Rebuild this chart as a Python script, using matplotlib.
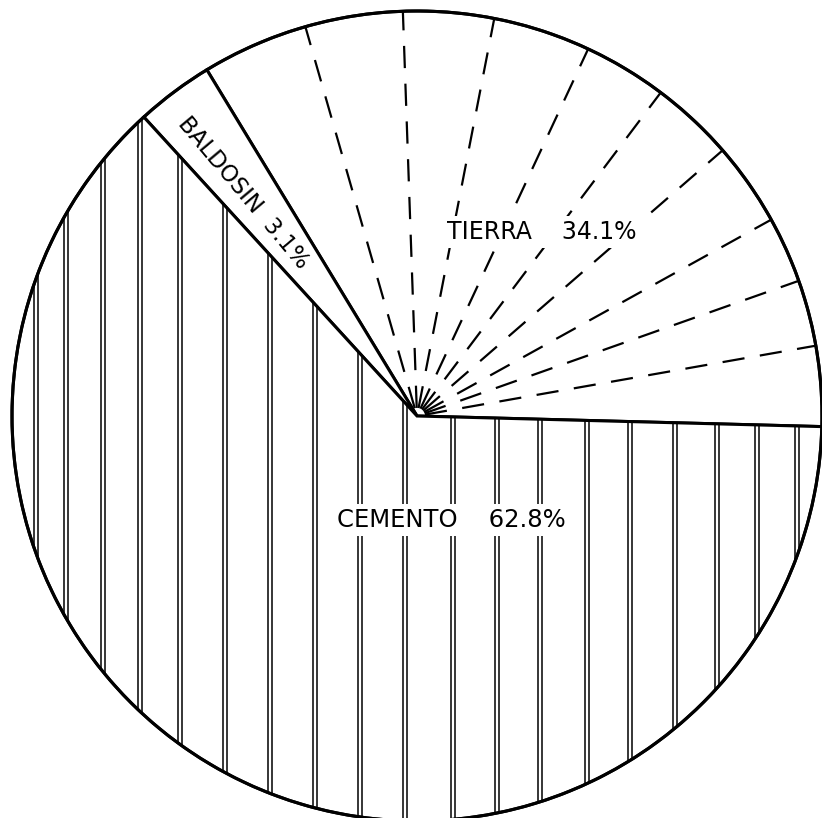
import numpy as np
import matplotlib.pyplot as plt

# Data
labels = ['TIERRA', 'BALDOSIN', 'CEMENTO']
shares = [34.1, 3.1, 62.8]

# hatch positions (pixels in the original drawing) - decoration only
stripe_px = [36, 66, 103, 140, 180, 225, 270, 315, 360, 405,
             453, 497, 540, 587, 630, 675, 717, 757, 797]
ray_deg = [10, 19.5, 29, 41, 53, 65, 79, 92, 106]

cx, cy, R = 417, 416, 405   # circle in pixel units
W, H = 822, 818

fig = plt.figure(figsize=(W / 100, H / 100), dpi=100)
ax = fig.add_axes([0, 0, 1, 1])

wedges, _ = ax.pie(shares, startangle=-1.5, counterclock=True, radius=1,
                   colors=['white'] * 3,
                   wedgeprops=dict(edgecolor='black', linewidth=2.2))

ax.set_xlim(-cx / R, (W - cx) / R)
ax.set_ylim(-(H - cy) / R, cy / R)
ax.set_aspect('equal')
ax.axis('off')

# vertical double lines in CEMENTO
cem = wedges[2]
for px in stripe_px:
    x = (px - cx) / R
    for off in (-2.3 / R, 2.3 / R):
        ln, = ax.plot([x + off, x + off], [-1.05, 1.05], color='black', lw=1.1)
        ln.set_clip_path(cem)

# dashed rays in TIERRA
tie = wedges[0]
for a in ray_deg:
    t = np.deg2rad(a)
    ln, = ax.plot([0.02 * np.cos(t), np.cos(t)], [0.02 * np.sin(t), np.sin(t)],
                  color='black', lw=1.6, linestyle=(0, (10, 7)))
    ln.set_clip_path(tie)

# outer circle drawn on top
circ = plt.Circle((0, 0), 1, fill=False, edgecolor='black', lw=2.2)
ax.add_patch(circ)

def to_data(px, py):
    return (px - cx) / R, (cy - py) / R

box = dict(facecolor='white', edgecolor='none', pad=3)

x, y = to_data(542, 232)
ax.text(x, y, f'{labels[0]}    {shares[0]}%', fontsize=17, ha='center', va='center',
        bbox=box)
x, y = to_data(451, 520)
ax.text(x, y, f'{labels[2]}    {shares[2]}%', fontsize=17.5, ha='center', va='center',
        bbox=box)
x, y = to_data(243, 193)
ax.text(x, y, f'{labels[1]}  {shares[1]}%', fontsize=16.5, ha='center', va='center',
        rotation=-50, rotation_mode='anchor')

fig.savefig('out.png', dpi=100)
